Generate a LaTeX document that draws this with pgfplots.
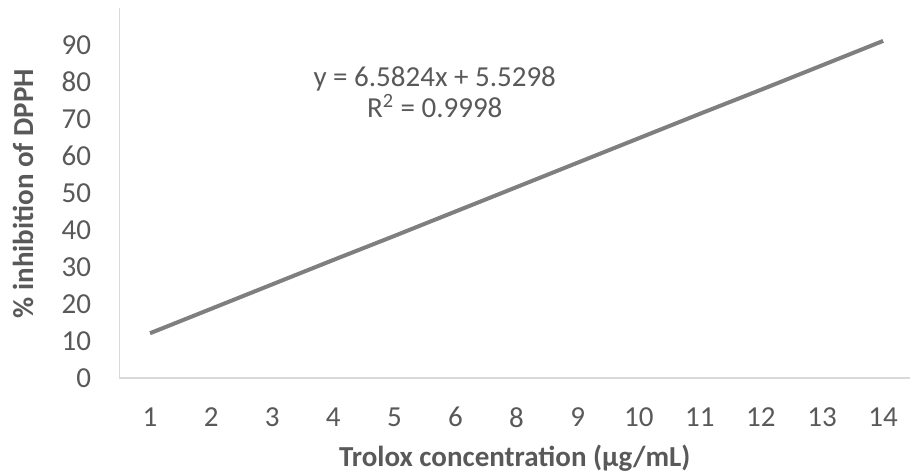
\documentclass[border=0pt]{standalone}
\usepackage{fontspec}
\setmainfont{Carlito}
\usepackage{pgfplots}
\pgfplotsset{compat=1.18}
\definecolor{tickgray}{HTML}{595959}
\definecolor{axgray}{HTML}{D9D9D9}
\definecolor{linegray}{HTML}{7F7F7F}
\begin{document}
\begin{tikzpicture}
\begin{axis}[
  scale only axis,
  width=395.25pt, height=185pt,
  xmin=0.5, xmax=13.44,
  ymin=0, ymax=100,
  axis x line=bottom, axis y line=left,
  axis line style={-, axgray, line width=0.75pt},
  xtick={1,...,13},
  xticklabels={1,2,3,4,5,6,8,9,10,11,12,13,14},
  ytick={0,10,...,90},
  major tick length=0pt,
  /pgf/number format/assume math mode=true,
  tick label style={font=\fontsize{14.5}{17}\selectfont, text=tickgray},
  x tick label style={anchor=north, inner sep=0pt, yshift=-14.5pt},
  y tick label style={anchor=east, inner sep=0pt, xshift=-14pt},
  xlabel={Trolox concentration (µg/mL)},
  ylabel={\% inhibition of DPPH},
  every axis x label/.style={at={(axis description cs:0.5,-0.238)}, anchor=base, font=\fontsize{14.5}{17}\selectfont\bfseries, text=tickgray},
  every axis y label/.style={at={(axis description cs:-0.1094,0.4986)}, anchor=base, rotate=90, font=\fontsize{14.5}{17}\selectfont\bfseries, text=tickgray},
  clip=false,
]
\addplot[linegray, line width=2pt, mark=none] coordinates {
(1,12.1) (2,18.7) (3,25.3) (4,31.9) (5,38.4) (6,45.0) (7,51.6)
(8,58.2) (9,64.8) (10,71.4) (11,77.9) (12,84.5) (13,91.1)
};
\node[anchor=base, text=tickgray, font=\fontsize{14.5}{17}\selectfont, inner sep=0pt] at (axis cs:5.66,78.7) {y = 6.5824x + 5.5298};
\node[anchor=base, text=tickgray, font=\fontsize{14.5}{17}\selectfont, inner sep=0pt] at (axis cs:5.66,70.3) {R\textsuperscript{2} = 0.9998};
\end{axis}
\pgfresetboundingbox
\useasboundingbox (-59.75pt,-47pt) rectangle (395.25pt,189pt);
\end{tikzpicture}
\end{document}
